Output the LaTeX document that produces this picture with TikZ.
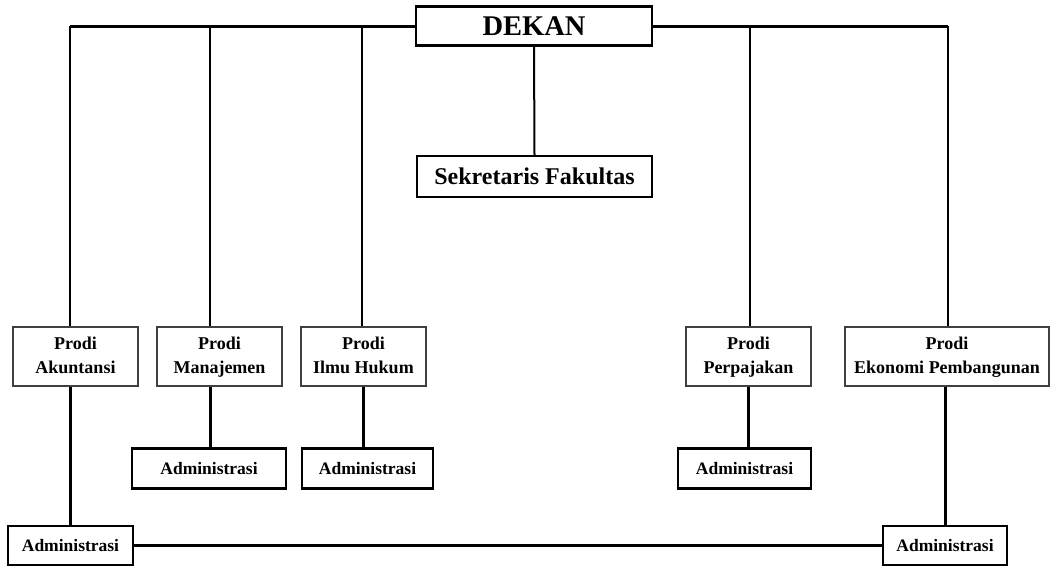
\documentclass[tikz,border=0pt]{standalone}
\usepackage{fontspec}
\setmainfont{Liberation Serif}
\newcommand{\twol}[2]{\strut #1\\\strut #2}
\begin{document}
\begin{tikzpicture}[x=1pt,y=-1pt,
  bigbox/.style={draw, line width=2.4pt, inner sep=0pt, font=\bfseries\fontsize{24}{28}\selectfont},
  prodibox/.style={draw=black!75, line width=1.2pt, inner sep=0pt, minimum height=59pt, align=center, font=\bfseries\fontsize{18}{24}\selectfont},
  adminbox/.style={draw, line width=2.4pt, inner sep=0pt, minimum height=40pt, font=\bfseries\fontsize{17.5}{21}\selectfont},
  thinline/.style={line width=2pt},
  thickline/.style={line width=3pt}]
\useasboundingbox (0,0) rectangle (1050,566);
% top
\node[bigbox, minimum width=236pt, minimum height=39pt, font=\bfseries\fontsize{28.5}{32}\selectfont] (dekan) at (534,26) {DEKAN};
\node[bigbox, minimum width=235pt, minimum height=41pt] (sek) at (534.5,176.5) {Sekretaris Fakultas};
% prodi
\node[prodibox, minimum width=125pt] (ak) at (75.5,356.5) {\twol{Prodi}{Akuntansi}};
\node[prodibox, minimum width=125pt] (man) at (219.5,356.5) {\twol{Prodi}{Manajemen}};
\node[prodibox, minimum width=125pt] (ih) at (363.5,356.5) {\twol{Prodi}{Ilmu Hukum}};
\node[prodibox, minimum width=125pt] (perp) at (748.5,356.5) {\twol{Prodi}{Perpajakan}};
\node[prodibox, minimum width=204pt] (ep) at (947,356.5) {\twol{Prodi}{Ekonomi Pembangunan}};
% admin
\node[adminbox, minimum width=154pt] (adm) at (209,468.5) {Administrasi};
\node[adminbox, minimum width=131pt] (adi) at (367.5,468.5) {Administrasi};
\node[adminbox, minimum width=133pt] (adp) at (744.5,468.5) {Administrasi};
\node[adminbox, minimum width=125pt, minimum height=39pt] (adl) at (70.5,545.5) {Administrasi};
\node[adminbox, minimum width=124pt, minimum height=39pt] (adr) at (945,545.5) {Administrasi};
% connector coordinates on top bar
\coordinate (t1) at (70,26);
\coordinate (t2) at (210,26);
\coordinate (t3) at (362,26);
\coordinate (t4) at (750,26);
\coordinate (t5) at (948,26);
% top bar
\draw[thickline] (dekan.west) -- (t1);
\draw[thickline] (dekan.east) -- (t5);
\draw[thinline] (t1) -- (t1 |- ak.north);
\draw[thinline] (t2) -- (t2 |- man.north);
\draw[thinline] (t3) -- (t3 |- ih.north);
\draw[thinline] (t4) -- (t4 |- perp.north);
\draw[thinline] (t5) -- (t5 |- ep.north);
\draw[thinline] (dekan.south) -- (sek.north);
% prodi to admin
\draw[thickline] (adl.north |- ak.south) -- (adl.north);
\draw[thickline] (t2 |- man.south) -- (t2 |- adm.north);
\draw[thickline] (ih.south) -- (ih.south |- adi.north);
\draw[thickline] (perp.south) -- (perp.south |- adp.north);
\draw[thickline] (adr.north |- ep.south) -- (adr.north);
% bottom bar
\draw[thickline] (adl.east) -- (adr.west);
\end{tikzpicture}
\end{document}
